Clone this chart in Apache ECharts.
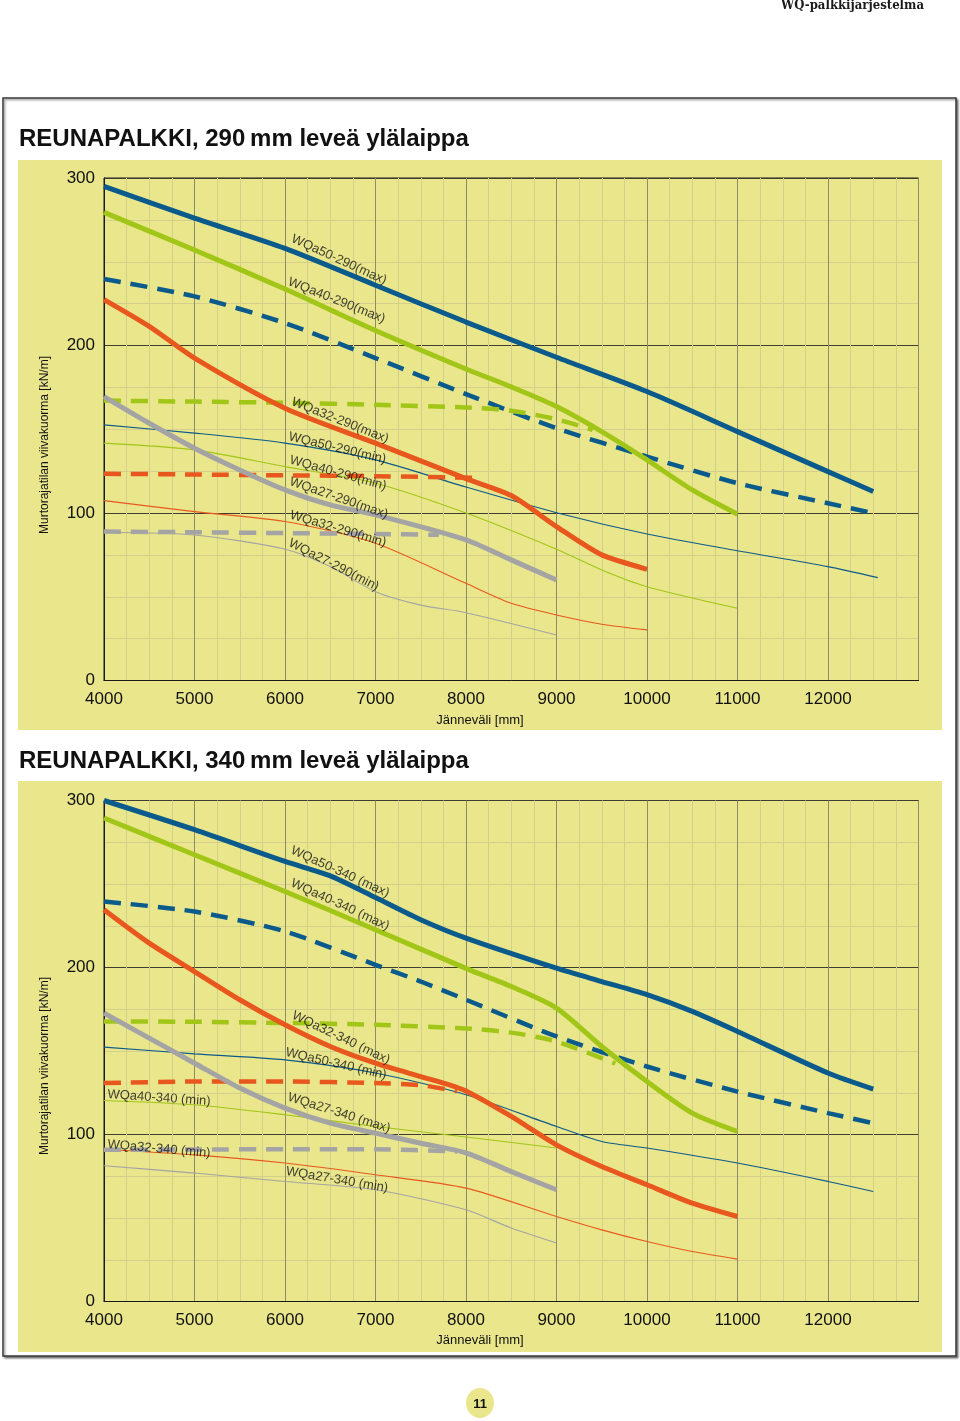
<!DOCTYPE html>
<html><head><meta charset="utf-8">
<script src="https://cdn.jsdelivr.net/npm/echarts/dist/echarts.min.js"></script>
<style>html,body{margin:0;padding:0;background:#fff}#c{width:960px;height:1421px}</style>
</head><body><div id="c"></div>
<script>
// ---------- tick values ----------
const xTicks = [4000, 5000, 6000, 7000, 8000, 9000, 10000, 11000, 12000, 13000];
const yTicks = [0, 100, 200, 300];

// ---------- chart 1 : 290 mm ----------
const c1_50max = [[4000,295],[5000,276],[6000,258],[7000,236],[8000,214],[9000,193],[10000,172.5],[11000,148.6],[12000,124.7],[12500,112.8]];
const c1_40max = [[4000,279.5],[5000,257],[6000,233.7],[7000,209],[8000,186],[8500,175.3],[9000,163.6],[9500,148.6],[10000,131.7],[10500,113.8],[11000,99.3]];
const c1_50dash = [[4000,239.7],[5000,229.3],[6000,213.4],[7000,192.5],[8000,171],[9000,150.6],[10000,133.7],[11000,117.8],[12000,105.8],[12500,99.9]];
const c1_40dash = [[4000,167.1],[5000,166.5],[6000,165.8],[7000,164.6],[8000,163],[8500,161],[9000,156],[9400,149.6]];
const c1_32max = [[4000,227.4],[4500,211.4],[5000,192.5],[6000,162.6],[7000,141.7],[8000,120.5],[8500,110.4],[9000,91.9],[9500,75],[10000,66.4]];
const c1_32dash = [[4000,123.4],[5000,123],[6000,122.5],[7000,122],[8100,121]];
const c1_50min = [[4000,152.6],[5000,147.7],[6000,141.7],[7000,131.7],[8000,115.5],[9000,100.2],[10000,87.5],[11000,77.5],[12000,68],[12550,61.4]];
const c1_40min = [[4000,141.7],[5000,137.7],[6000,127.7],[7000,117.8],[8000,100],[9000,78.4],[9500,66],[10000,56],[11000,43.1]];
const c1_27max = [[4000,169.5],[4500,153.6],[5000,138.7],[5500,125.7],[6000,113.8],[6500,104.8],[7000,98.9],[8000,84],[8500,72],[9000,60]];
const c1_27dash = [[4000,88.9],[5000,88.5],[6000,88],[7000,87.5],[7700,87]];
const c1_32min = [[4000,107.4],[5000,100.8],[6000,94.9],[7000,82],[8000,58],[8500,46.1],[9000,39.1],[9500,33.6],[10000,30.2]];
const c1_27min = [[4000,88.5],[5000,86.9],[6000,78.4],[6500,68],[7000,53],[7500,45],[8000,40.5],[9000,27.2]];

const labels1 = ['WQa50-290(max)','WQa40-290(max)','WQa32-290(max)','WQa50-290(min)','WQa40-290(min)','WQa27-290(max)','WQa32-290(min)','WQa27-290(min)'];
const labelX1 = [6597, 6571, 6608, 6578, 6586, 6593, 6586, 6538];
const labelY1 = [251.2, 226.9, 155.2, 138.7, 123.8, 108.9, 90.5, 69];
const labelRot1 = [-24.5, -21.6, -21.6, -13.5, -15.5, -19, -16.5, -27];

// ---------- chart 2 : 340 mm ----------
const c2_50max = [[4000,300],[5000,282.5],[6000,263.5],[6500,254.9],[7000,241.9],[7500,228.6],[8000,217.6],[9000,199.6],[9500,191.6],[10000,183.7],[10500,173.7],[11000,161.7],[12000,136.8],[12500,127.2]];
const c2_40max = [[4000,289.5],[5000,267.5],[6000,245.5],[7000,222.6],[8000,199.5],[8500,188.6],[9000,175.7],[9500,152.7],[10000,131.7],[10500,112.8],[11000,101.8]];
const c2_50dash = [[4000,239.5],[5000,233.5],[6000,221.6],[7000,201.6],[7500,191.6],[8000,180.7],[9000,158.7],[10000,140.7],[11000,125.7],[12000,112.8],[12500,106.8]];
const c2_40dash = [[4000,167.7],[5000,167.5],[6000,166.8],[7000,165.7],[8000,163.5],[8500,161],[9000,155.7],[9650,142.5]];
const c2_32max = [[4000,234.6],[4500,214.6],[5000,197.6],[5500,180.7],[6000,165.7],[6500,152.7],[7000,142.7],[7500,134.7],[7800,130],[8000,126],[8500,110.8],[9000,93.8],[9500,80.8],[10000,69.9],[10500,58.9],[11000,50.9]];
const c2_32dash = [[4000,130.8],[5000,131.7],[6000,131.7],[7000,130.8],[7500,129.5],[7900,126]];
const c2_50min = [[4000,152.3],[5000,148.3],[6000,144.7],[7000,136.8],[8000,123.8],[9000,104.8],[9500,95.8],[10000,91.9],[11000,82.9],[12000,71.9],[12500,65.9]];
const c2_40min = [[4000,120.4],[5000,117.8],[6000,111.8],[7000,104.8],[8000,98.5],[9000,91.9]];
const c2_27max = [[4000,172.7],[4500,157.7],[5000,142.7],[5500,127.8],[6000,115.8],[6500,106.8],[7000,100.8],[7500,94.8],[8000,89],[8500,77.8],[9000,66.9]];
const c2_27dash = [[4000,90.8],[5000,91],[6000,91.2],[7000,91.2],[7900,89.8]];
const c2_32min = [[4000,91.2],[5000,87.8],[6000,82.9],[7000,75.9],[8000,67.9],[9000,50.9],[9500,42.9],[10000,35.9],[10500,29.9],[11000,25.4]];
const c2_27min = [[4000,81.3],[5000,76.9],[6000,71.9],[7000,66.9],[8000,54.9],[8500,44],[9000,35]];

const labels2 = ['WQa50-340 (max)','WQa40-340 (max)','WQa32-340 (max)','WQa50-340 (min)','WQa40-340 (min)','WQa27-340 (max)','WQa32-340 (min)','WQa27-340 (min)'];
const labelX2 = [6608, 6608, 6619, 6564, 4608, 6597, 4608, 6575];
const labelY2 = [257.3, 237.6, 157.9, 142.3, 121.9, 112.9, 91.4, 72.9];
const labelRot2 = [-24.5, -24.5, -25.5, -13, -4, -17.5, -5, -9.5];

// ---------- styling ----------
const BLUE = '#0b5a8c', GREEN = '#a2c617', ORANGE = '#e8581e', GRAY = '#a4a4a4';
const YELLOW = '#e9e68c';
const FONT = 'Liberation Sans, Arial, sans-serif';

function line(data, color, kind, gi) {
  const w = kind === 'thick' ? 5 : kind === 'dash' ? 4.5 : 1.1;
  return {
    type: 'line', xAxisIndex: gi, yAxisIndex: gi, data: data,
    smooth: 0.25, symbol: 'none', silent: true, animation: false,
    lineStyle: { color: color, width: w, type: kind === 'dash' ? [17, 10] : 'solid', cap: 'butt' },
    z: kind === 'thin' ? 3 : kind === 'dash' ? 4 : 5
  };
}
function labelSeries(names, xs, ys, rots, gi) {
  return {
    type: 'scatter', xAxisIndex: gi, yAxisIndex: gi, symbolSize: 1, silent: true, animation: false, z: 10,
    itemStyle: { color: 'rgba(0,0,0,0)' },
    label: { show: true, position: 'inside', formatter: '{b}', fontSize: 13, color: '#111', fontFamily: FONT },
    data: names.map((n, i) => ({ name: n, value: [xs[i], ys[i]], label: { rotate: rots[i] } }))
  };
}
function xAx(gi) {
  return {
    type: 'value', gridIndex: gi, min: xTicks[0], max: xTicks[xTicks.length - 1], interval: xTicks[1] - xTicks[0],
    axisLine: { show: true, onZero: false, lineStyle: { color: '#1a1a1a', width: 1 } },
    axisTick: { show: false },
    axisLabel: { margin: 10, fontSize: 17, color: '#111', fontFamily: FONT,
      formatter: v => (v >= xTicks[xTicks.length - 1] ? '' : String(v)) },
    splitLine: { show: true, lineStyle: { color: '#8e8b6a', width: 1 } },
    minorTick: { show: false, splitNumber: 4 },
    minorSplitLine: { show: true, lineStyle: { color: '#d3cf8d', width: 1 } }
  };
}
function yAx(gi) {
  return {
    type: 'value', gridIndex: gi, min: yTicks[0], max: yTicks[yTicks.length - 1], interval: yTicks[1] - yTicks[0],
    axisLine: { show: true, lineStyle: { color: '#1a1a1a', width: 1 } },
    axisTick: { show: false },
    axisLabel: { margin: 9, fontSize: 17, color: '#111', fontFamily: FONT },
    splitLine: { show: true, lineStyle: { color: '#3e3d30', width: 1 } },
    minorTick: { show: false, splitNumber: 4 },
    minorSplitLine: { show: true, lineStyle: { color: '#d3cf8d', width: 1 } }
  };
}

const series = [
  line(c1_50min, BLUE, 'thin', 0), line(c1_40min, GREEN, 'thin', 0), line(c1_32min, ORANGE, 'thin', 0), line(c1_27min, GRAY, 'thin', 0),
  line(c1_50dash, BLUE, 'dash', 0), line(c1_40dash, GREEN, 'dash', 0), line(c1_32dash, ORANGE, 'dash', 0), line(c1_27dash, GRAY, 'dash', 0),
  line(c1_50max, BLUE, 'thick', 0), line(c1_40max, GREEN, 'thick', 0), line(c1_32max, ORANGE, 'thick', 0), line(c1_27max, GRAY, 'thick', 0),
  labelSeries(labels1, labelX1, labelY1, labelRot1, 0),
  line(c2_50min, BLUE, 'thin', 1), line(c2_40min, GREEN, 'thin', 1), line(c2_32min, ORANGE, 'thin', 1), line(c2_27min, GRAY, 'thin', 1),
  line(c2_50dash, BLUE, 'dash', 1), line(c2_40dash, GREEN, 'dash', 1), line(c2_32dash, ORANGE, 'dash', 1), line(c2_27dash, GRAY, 'dash', 1),
  line(c2_50max, BLUE, 'thick', 1), line(c2_40max, GREEN, 'thick', 1), line(c2_32max, ORANGE, 'thick', 1), line(c2_27max, GRAY, 'thick', 1),
  labelSeries(labels2, labelX2, labelY2, labelRot2, 1)
];

const chart = echarts.init(document.getElementById('c'), null, { renderer: 'canvas' });
chart.setOption({
  backgroundColor: '#ffffff',
  animation: false,
  grid: [
    { left: 104, top: 178, right: 41.5, bottom: 740.5, show: true, borderColor: '#1a1a1a', borderWidth: 1, outerBoundsMode: 'none', containLabel: false },
    { left: 104, top: 800.5, right: 41.5, bottom: 119.5, show: true, borderColor: '#1a1a1a', borderWidth: 1, outerBoundsMode: 'none', containLabel: false }
  ],
  xAxis: [xAx(0), xAx(1)],
  yAxis: [yAx(0), yAx(1)],
  series: series,
  graphic: [
    { type: 'rect', z: -100, silent: true, shape: { x: 3, y: 98, width: 953, height: 1258 },
      style: { fill: '#fff', stroke: '#3a3a3a', lineWidth: 1.5, shadowBlur: 2, shadowOffsetX: 1.5, shadowOffsetY: 1.5, shadowColor: 'rgba(0,0,0,0.45)' } },
    { type: 'rect', z: -90, silent: true, shape: { x: 18, y: 160, width: 924, height: 570 }, style: { fill: YELLOW } },
    { type: 'rect', z: -90, silent: true, shape: { x: 18, y: 781, width: 924, height: 571 }, style: { fill: YELLOW } },
    { type: 'text', z: 100, silent: true, x: 19, y: 139, style: { text: 'REUNAPALKKI, 290\u2009mm leveä ylälaippa', font: 'bold 24px ' + FONT, fill: '#111', textAlign: 'left', textVerticalAlign: 'middle' } },
    { type: 'text', z: 100, silent: true, x: 19, y: 761, style: { text: 'REUNAPALKKI, 340\u2009mm leveä ylälaippa', font: 'bold 24px ' + FONT, fill: '#111', textAlign: 'left', textVerticalAlign: 'middle' } },
    { type: 'text', z: 100, silent: true, x: 45, y: 445, rotation: Math.PI / 2, style: { text: 'Murtorajatilan viivakuorma [kN/m]', font: '12px ' + FONT, fill: '#111', textAlign: 'center', textVerticalAlign: 'middle' } },
    { type: 'text', z: 100, silent: true, x: 45, y: 1066, rotation: Math.PI / 2, style: { text: 'Murtorajatilan viivakuorma [kN/m]', font: '12px ' + FONT, fill: '#111', textAlign: 'center', textVerticalAlign: 'middle' } },
    { type: 'text', z: 100, silent: true, x: 480, y: 720, style: { text: 'Jänneväli [mm]', font: '13px ' + FONT, fill: '#111', textAlign: 'center', textVerticalAlign: 'middle' } },
    { type: 'text', z: 100, silent: true, x: 480, y: 1340, style: { text: 'Jänneväli [mm]', font: '13px ' + FONT, fill: '#111', textAlign: 'center', textVerticalAlign: 'middle' } },
    { type: 'text', z: 100, silent: true, x: 924, y: 6, style: { text: 'WQ-palkkijärjestelmä', font: 'bold 13px "DejaVu Serif Condensed", "DejaVu Serif", serif', fill: '#1a1a1a', textAlign: 'right', textVerticalAlign: 'middle' } },
    { type: 'ellipse', z: 100, silent: true, shape: { cx: 480, cy: 1403, rx: 14, ry: 15 }, style: { fill: YELLOW } },
    { type: 'text', z: 101, silent: true, x: 480, y: 1404, style: { text: '11', font: 'bold 13px ' + FONT, fill: '#111', textAlign: 'center', textVerticalAlign: 'middle' } }
  ]
});
</script></body></html>
